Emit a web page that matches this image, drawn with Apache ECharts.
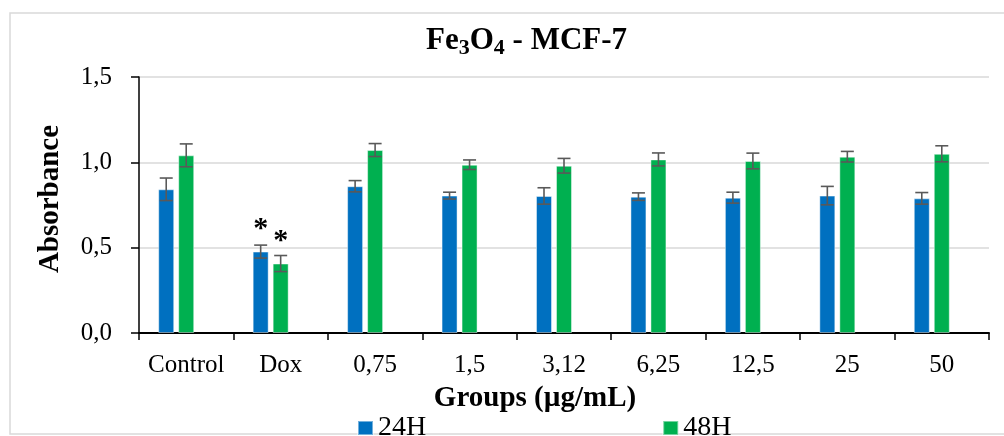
<!DOCTYPE html>
<html>
<head>
<meta charset="utf-8">
<script src="https://cdn.jsdelivr.net/npm/echarts@6/dist/echarts.min.js"></script>
<style>
  html, body { margin: 0; padding: 0; background: #fff; }
  #main { width: 1004px; height: 436px; }
</style>
</head>
<body>
<div id="main"></div>
<script>
// values
var groups = ['Control', 'Dox', '0,75', '1,5', '3,12', '6,25', '12,5', '25', '50'];
var abs24 = [0.842, 0.477, 0.860, 0.805, 0.803, 0.799, 0.793, 0.805, 0.789];
var abs48 = [1.041, 0.407, 1.072, 0.986, 0.980, 1.017, 1.008, 1.033, 1.050];
var err24 = [0.066, 0.038, 0.033, 0.020, 0.048, 0.022, 0.032, 0.054, 0.034];
var err48 = [0.067, 0.047, 0.038, 0.028, 0.043, 0.038, 0.046, 0.031, 0.047];
var starred = [1]; // Dox, marked with *

var serif = "'Liberation Serif', 'Times New Roman', serif";
var BLUE = '#0070C0', GREEN = '#00B050';

function barData(vals) {
  return vals.map(function (v, i) {
    if (starred.indexOf(i) < 0) return v;
    return {
      value: v,
      label: {
        show: true, position: 'top', distance: 7, formatter: '*',
        fontFamily: serif, fontSize: 30, fontWeight: 'bold', color: '#000'
      }
    };
  });
}

// error bars, drawn through the axis scales; dx = bar offset inside the band
function errSeries(vals, errs, dx) {
  return {
    type: 'custom',
    z: 5,
    silent: true,
    data: vals.map(function (v, i) { return [i, v, errs[i]]; }),
    renderItem: function (params, api) {
      var i = api.value(0), v = api.value(1), e = api.value(2);
      var hi = api.coord([i, v + e]);
      var lo = api.coord([i, v - e]);
      var x = hi[0] + dx, w = 6.5;
      var st = { stroke: '#595959', lineWidth: 1.6 };
      return {
        type: 'group',
        children: [
          { type: 'line', shape: { x1: x, y1: hi[1], x2: x, y2: lo[1] }, style: st },
          { type: 'line', shape: { x1: x - w, y1: hi[1], x2: x + w, y2: hi[1] }, style: st },
          { type: 'line', shape: { x1: x - w, y1: lo[1], x2: x + w, y2: lo[1] }, style: st }
        ]
      };
    }
  };
}

var chart = echarts.init(document.getElementById('main'));

var option = {
  backgroundColor: '#fff',
  animation: false,
  graphic: [
    {
      type: 'rect',
      shape: { x: 10, y: 13, width: 1100, height: 421 },
      style: { fill: null, stroke: '#d9d9d9', lineWidth: 1.5 },
      z: -1
    },
    {
      // chart title with subscripts
      type: 'text',
      left: 426,
      top: 25,
      style: {
        text: '{m|Fe}{s|3}{m|O}{s|4}{m| - MCF-7}',
        rich: {
          m: { fontFamily: serif, fontSize: 31, fontWeight: 'bold', fill: '#000', lineHeight: 34, verticalAlign: 'top' },
          s: { fontFamily: serif, fontSize: 22, fontWeight: 'bold', fill: '#000', lineHeight: 22, verticalAlign: 'top', padding: [12, 0, 0, 0] }
        }
      }
    }
  ],
  legend: {
    data: ['24H', '48H'],
    left: 357,
    top: 414,
    padding: 0,
    itemWidth: 15,
    itemHeight: 14,
    itemGap: 236,
    icon: 'rect',
    textStyle: { fontFamily: serif, fontSize: 28, color: '#000' }
  },
  grid: { left: 139, right: 15, top: 77, bottom: 103, containLabel: false },
  xAxis: {
    type: 'category',
    data: groups,
    name: 'Groups (µg/mL)',
    nameLocation: 'middle',
    nameGap: 51,
    nameTextStyle: { fontFamily: serif, fontSize: 29, fontWeight: 'bold', color: '#000', padding: [0, 58, 0, 0] },
    axisLine: { lineStyle: { color: '#000', width: 2 } },
    axisTick: { show: true, length: 7, lineStyle: { color: '#000', width: 1.5 } },
    axisLabel: { interval: 0, fontFamily: serif, fontSize: 25, color: '#000', margin: 20 },
    splitLine: { show: false }
  },
  yAxis: {
    type: 'value',
    min: 0,
    max: 1.5,
    interval: 0.5,
    name: 'Absorbance',
    nameLocation: 'middle',
    nameGap: 74,
    nameTextStyle: { fontFamily: serif, fontSize: 29, fontWeight: 'bold', color: '#000', padding: [0, 0, 0, 12] },
    axisLine: { show: true, lineStyle: { color: '#000', width: 1.5 } },
    axisTick: { show: true, length: 8, lineStyle: { color: '#000', width: 1.5 } },
    axisLabel: {
      fontFamily: serif, fontSize: 25, color: '#000', margin: 27,
      formatter: function (v) { return v.toFixed(1).replace('.', ','); }
    },
    splitLine: { lineStyle: { color: '#d9d9d9', width: 1.5 } }
  },
  series: [
    {
      name: '24H', type: 'bar', data: barData(abs24),
      barWidth: 16, barGap: '25%',
      itemStyle: { color: BLUE, borderColor: 'rgba(255,255,255,0.45)', borderWidth: 1 }
    },
    {
      name: '48H', type: 'bar', data: barData(abs48),
      barWidth: 16, barGap: '25%',
      itemStyle: { color: GREEN, borderColor: 'rgba(255,255,255,0.45)', borderWidth: 1 }
    },
    // third, empty slot (as in the original workbook) keeps the bars left of centre
    { name: '72H', type: 'bar', data: [], barWidth: 16, barGap: '25%' },
    errSeries(abs24, err24, -20),
    errSeries(abs48, err48, 0)
  ]
};

chart.setOption(option);
</script>
</body>
</html>
